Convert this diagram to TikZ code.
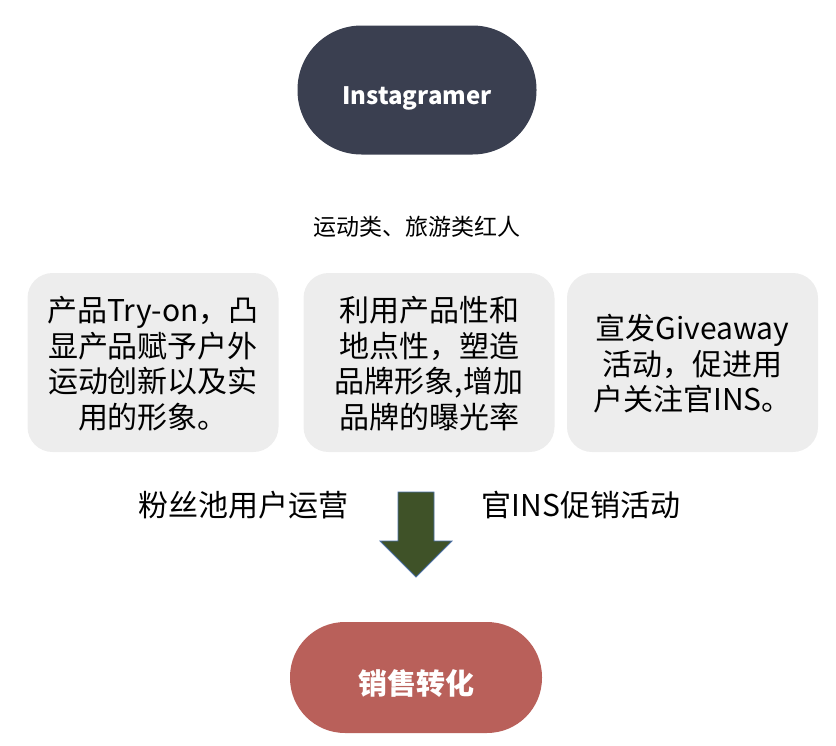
\documentclass[tikz,border=0pt]{standalone}
\usepackage{fontspec}
\setmainfont{Noto Sans CJK SC}
\usetikzlibrary{positioning, shapes}
\definecolor{slate}{HTML}{3A3F50}
\definecolor{brick}{HTML}{B9605A}
\definecolor{cardgray}{HTML}{EDEDED}
\definecolor{olive}{HTML}{3F5228}
\definecolor{edgeblue}{HTML}{4A6FA5}
\tikzset{
    pill/.style args={#1 #2 #3}{
        fill=#1, text=white, inner sep=0pt,
        minimum width=#2, minimum height=#3, rounded corners=0.5*#3-0.5pt,
        font=\fontsize{24}{28}\selectfont\bfseries
    },
    card/.style={
        fill=cardgray, rounded corners=25pt, inner sep=0pt,
        minimum width=251pt, minimum height=179pt, align=center,
        font=\fontsize{30}{35.5}\selectfont, text depth=0pt
    },
    tag/.style={inner sep=0pt, font=\fontsize{30}{36}\selectfont},
    blockarrow/.style={fill=olive, draw=edgeblue, line width=0.8pt, line join=miter}
}
\begin{document}
\begin{tikzpicture}[x=1pt, y=-1pt]
    \useasboundingbox (0,0) rectangle (836,745);
    \node[pill={slate 239pt 129pt}, text height=34pt, text depth=5pt] (ins) at (417,90) {Instagramer};
    \node[inner sep=0pt, font=\fontsize{23}{26}\selectfont] (kol) at (417,227) {运动类、旅游类红人};
    % three cards
    \node[card] (c1) at (153,362.5) {产品Try-on，凸\\显产品赋予户外\\运动创新以及实\\用的形象。};
    \node[card] (c2) at (429,362.5) {利用产品性和\\地点性，塑造\\品牌形象,增加\\品牌的曝光率};
    \node[card] (c3) at (692.5,362.5) {宣发Giveaway\\活动，促进用\\户关注官INS。};
    % arrow
    \coordinate (tip) at (416,577);
    \draw[blockarrow] (398,492) -- (434,492) -- (434,541) -- (452,541) -- (tip) -- (380,541) -- (398,541) -- cycle;
    \node[tag] (fans) at (243,505) {粉丝池用户运营};
    \node[tag] (promo) at (581,505) {官INS促销活动};
    \node[pill={brick 252pt 111pt}, font=\fontsize{29}{32}\selectfont\bfseries, text height=38pt, text depth=4pt] (sale) at (416,677.5) {销售转化};
\end{tikzpicture}
\end{document}
